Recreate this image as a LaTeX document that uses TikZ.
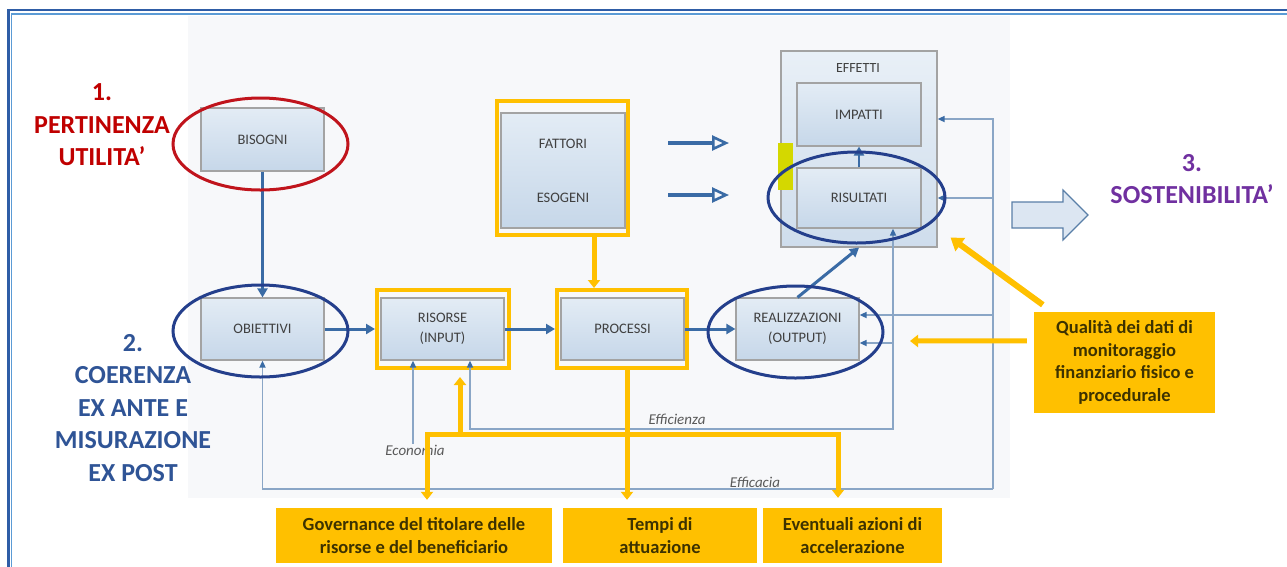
\documentclass[tikz,border=0pt]{standalone}
\usepackage{fontspec}
\setmainfont{Carlito}
\usetikzlibrary{arrows.meta,calc}
\definecolor{frameDark}{HTML}{2F5DA6}
\definecolor{frameLight}{HTML}{5B9BD5}
\definecolor{ylw}{HTML}{FFC000}
\definecolor{flow}{HTML}{3A6BA5}
\definecolor{fbline}{HTML}{8AA6C6}
\definecolor{ellblue}{HTML}{243F8C}
\definecolor{ellred}{HTML}{C0141C}
\definecolor{boxgray}{HTML}{A3A3A3}
\definecolor{boxtop}{HTML}{E3ECF5}
\definecolor{boxbot}{HTML}{C6D7E9}
\definecolor{panel}{HTML}{F7F8FA}
\definecolor{txtgray}{HTML}{404040}
\definecolor{italgray}{HTML}{5A5A5A}
\definecolor{redtxt}{HTML}{C00000}
\definecolor{bluetxt}{HTML}{2F5496}
\definecolor{purtxt}{HTML}{7030A0}
\definecolor{qualtxt}{HTML}{3D3200}
\definecolor{greenyel}{HTML}{D4D800}
\definecolor{bigarrfill}{HTML}{DCE6F2}
\definecolor{bigarrdraw}{HTML}{5A7FA8}
\tikzset{
  box/.style={draw=boxgray, line width=1.2pt, top color=boxtop, bottom color=boxbot,
    minimum width=123pt, minimum height=62pt, inner sep=0pt, align=center,
    text=txtgray, font=\fontsize{14.5}{20}\selectfont},
  yframe/.style={draw=ylw, line width=4pt, inner sep=0pt},
  mainarr/.style={draw=flow, line width=3pt, -{Triangle[length=9pt,width=10pt]}},
  fb/.style={draw=fbline, line width=1.6pt},
  fbtip/.tip={Triangle[length=7pt,width=6pt,color=flow]},
  yl/.style={draw=ylw, line width=5pt},
  ytip/.tip={Triangle[length=8pt,width=12pt]},
  hollowarr/.style={draw=flow, line width=3.2pt, -{Triangle[open,length=17pt,width=15pt,line width=2.6pt]}},
  ybox/.style={fill=ylw, inner sep=0pt, align=center, text=qualtxt,
    font=\bfseries\fontsize{18.5}{22.5}\selectfont},
  ital/.style={text=italgray, font=\itshape\fontsize{15}{17}\selectfont, inner sep=1pt},
  bigtxt/.style={align=center, font=\bfseries\fontsize{26}{32.5}\selectfont}
}
\begin{document}
\begin{tikzpicture}[x=1pt,y=-1pt]
\useasboundingbox (0,0) rectangle (1287,566);
\clip (0,0) rectangle (1287,566);
\fill[white] (0,0) rectangle (1287,566);
% outer frame
\draw[frameDark, line width=2.5pt] (8.5,600) -- (8.5,10) -- (1300,10);
\draw[frameLight, line width=1.8pt] (11.5,600) -- (11.5,14) -- (1300,14);
% panel background
\fill[panel] (188,16) rectangle (1010,498);

% yellow frames
\node[yframe, minimum width=132pt, minimum height=78pt] (risorseF) at (443,329) {};
\node[yframe, minimum width=130pt, minimum height=78pt] (processiF) at (622,329) {};
\node[yframe, minimum width=131pt, minimum height=134pt] (fattoriF) at (562.5,168) {};

% effetti container
\node[draw=boxgray, line width=1.2pt, top color=boxtop!80!white, bottom color=boxbot!85!white,
  minimum width=156pt, minimum height=196pt, inner sep=0pt] (effetti) at (859,149) {};
\fill[greenyel] (778,143) rectangle (793,190);
\node[text=txtgray, font=\fontsize{14}{16}\selectfont] (effettiL) at (858,68) {EFFETTI};

% boxes
\node[box, minimum height=63pt] (bisogni) at (262.5,139.5) {BISOGNI};
\node[box] (obiettivi) at (262.5,329) {OBIETTIVI};
\node[box] (risorse) at (442.5,329) {RISORSE\\(INPUT)};
\node[box] (processi) at (622.5,329) {PROCESSI};
\node[box] (realiz) at (797.5,329) {REALIZZAZIONI\\(OUTPUT)};
\node[box, minimum width=124pt, minimum height=115pt] (fattori) at (563,170.5) {FATTORI\\[34pt]ESOGENI};
\node[box, minimum width=124pt, minimum height=63pt] (impatti) at (859,114.5) {IMPATTI};
\node[box, minimum width=124pt, minimum height=60pt] (risultati) at (859,198) {RISULTATI};

% italic labels
\node[ital] (econ) at (415,450) {Economia};
\node[ital] (effic) at (677,419) {Efficienza};
\node[ital] (efficacia) at (755,482) {Efficacia};

% feedback lines
\coordinate (effR) at (993,489);
\coordinate (effiR) at (893,429);
\draw[fb,-{fbtip}] (effR) -| (obiettivi.south);
\draw[fb,-{fbtip}] (effR) |- ($(effetti.east)+(0,-30)$);
\draw[fb,-{fbtip}] (effetti.east -| effR) ++(0,49) -- (effetti.east |- risultati.east);
\draw[fb,-{fbtip}] ($(realiz.east -| effR)+(0,-14)$) -- ($(realiz.east)+(0,-14)$);
\draw[fb,{fbtip}-{fbtip}] ($(risorse.south)+(27.5,0)$) |- (effiR) -- (effiR |- risultati.south);
\draw[fb,-{fbtip}] ($(realiz.east -| effiR)+(0,14)$) -- ($(realiz.east)+(0,14)$);
\draw[fb,-{fbtip}] ([xshift=-2pt]econ.north) -- ([xshift=-2pt]econ.north |- risorse.south);

% main flow
\draw[mainarr] (bisogni.south) -- (obiettivi.north);
\draw[mainarr] (obiettivi.east) -- (risorseF.west);
\draw[mainarr] (risorse.east) -- (processiF.west);
\draw[mainarr] (processi.east) -- (realiz.west);
\draw[mainarr] (realiz.north) -- (effetti.south);
\draw[mainarr, line width=2.6pt] (risultati.north) -- (impatti.south);

% exogenous hollow arrows
\coordinate (h1a) at (668,143); \coordinate (h1b) at (729,143);
\coordinate (h2a) at (668,195); \coordinate (h2b) at (729,195);
\draw[hollowarr] (h1a) -- (h1b);
\draw[hollowarr] (h2a) -- (h2b);

% ellipses
\draw[ellred, line width=3pt] (260.5,144) ellipse (87.5 and 46);
\draw[ellblue, line width=3pt] (260.5,331) ellipse (87.5 and 46);
\draw[ellblue, line width=3pt] (795.5,332) ellipse (87.5 and 46);
\draw[ellblue, line width=3pt] (856.5,197.5) ellipse (88.5 and 45.5);

% bottom yellow boxes
\node[ybox, minimum width=276pt, minimum height=55pt] (gov) at (414,535.5) {Governance del titolare delle\\risorse e del beneficiario};
\node[ybox, minimum width=194pt, minimum height=55pt] (tempi) at (660,535.5) {Tempi di\\attuazione};
\node[ybox, minimum width=179pt, minimum height=55pt] (event) at (852.5,535.5) {Eventuali azioni di\\accelerazione};
\node[ybox, minimum width=181pt, minimum height=101pt] (qual) at (1124.5,362.5) {Qualità dei dati di\\monitoraggio\\finanziario fisico e\\procedurale};

% yellow connectors
\coordinate (yA) at (594,0);
\draw[yl,-{ytip}] (yA |- fattoriF.south) -- (yA |- processiF.north);
\coordinate (yB) at (627,0);
\draw[yl,-{ytip}] (yB |- processiF.south) -- ($(yB |- tempi.north)+(0,-8)$);
\coordinate (bar) at (460,434);
\draw[yl,-{ytip}] (bar) -- ($(bar |- risorseF.south)+(0,7)$);
\draw[yl,-{ytip}] (bar) -| ($(gov.north -| 427,0)+(0,-8)$);
\draw[yl,-{ytip}] (bar) -| ($(event.north -| 838,0)+(0,-10)$);
\coordinate (qEnd) at (910,341);
\draw[yl,-{ytip}] ($(qual.north west)+(-7,29)$) -- (qEnd);
\draw[yl, line width=6pt, -{Triangle[length=12pt,width=16pt]}] ($(qual.north west)+(9,-7)$) -- ($(effetti.south east)+(13,-10)$);

% sostenibilita arrow
\draw[fill=bigarrfill, draw=bigarrdraw, line width=1.2pt, line join=miter]
  (1012,202) -- (1063,202) -- (1063,190) -- (1088,215) -- (1063,240) -- (1063,228) -- (1012,228) -- cycle;

% big labels
\node[bigtxt, text=redtxt] (lab1) at (102,125) {1.\\PERTINENZA\\UTILITA’};
\node[bigtxt, text=bluetxt] (lab2) at (133,408) {2.\\COERENZA\\EX ANTE E\\MISURAZIONE\\EX POST};
\node[bigtxt, text=purtxt] (lab3) at (1192,179) {3.\\SOSTENIBILITA’};
\end{tikzpicture}
\end{document}
